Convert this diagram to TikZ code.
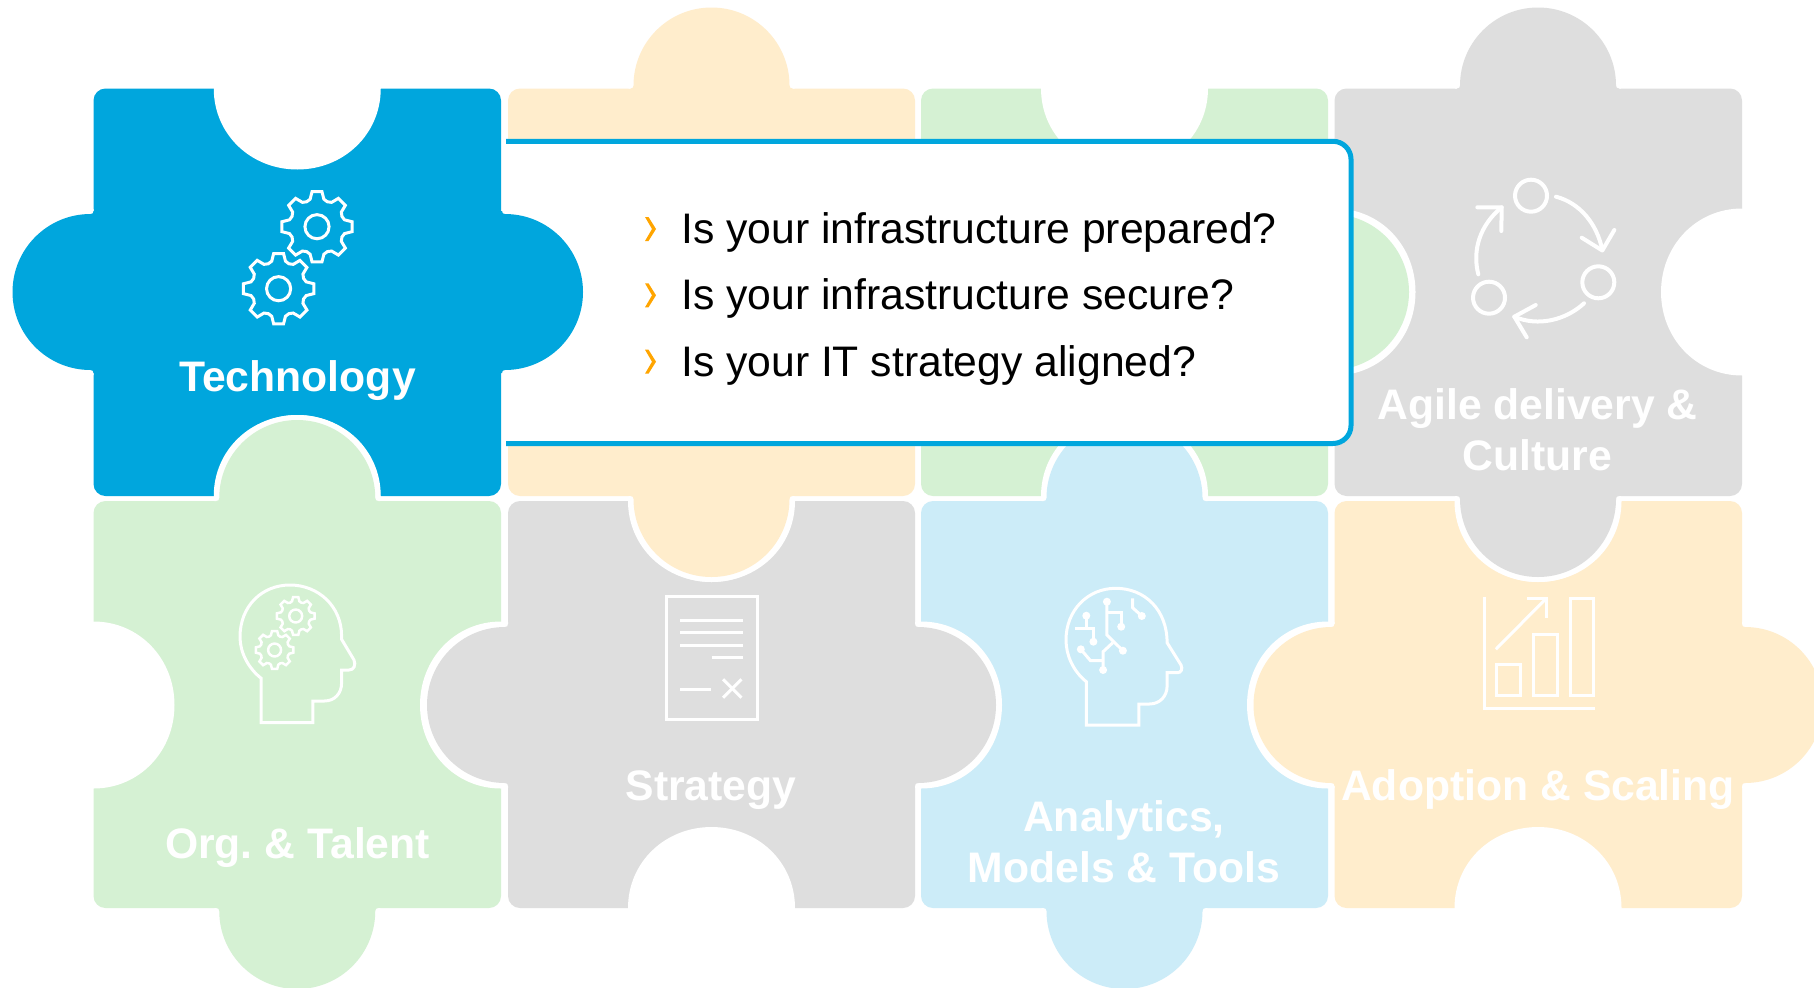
\documentclass[tikz,border=0pt]{standalone}
\usepackage{fontspec}
\setmainfont{Liberation Sans}
\frenchspacing
\definecolor{cblue}{HTML}{00A6DD}
\definecolor{corange}{HTML}{FFEDCC}
\definecolor{cgreen}{HTML}{D5F1D3}
\definecolor{cpale}{HTML}{CCECF8}
\definecolor{cgray}{HTML}{DEDEDE}
\definecolor{cchev}{HTML}{FFA500}
\tikzset{
  iconline/.style={draw=white,line width=.06cm,line join=miter},
  cycleline/.style={draw=white,line width=.08cm,line cap=round,line join=round},
  tilelabel/.style={text=white,font=\bfseries\fontsize{24.3}{29}\selectfont,align=center,anchor=base,inner sep=0pt},
  asktext/.style={text=black,font=\fontsize{24.3}{29}\selectfont,anchor=base west,inner sep=0pt},
  tilebody/.style={rounded corners=.24cm},
}
% outward tab: base centre (#1,#2), rotation #3 (0 down, 90 right, 180 up, -90 left)
\newcommand{\ptab}[4]{%
  \begin{scope}[shift={(#1,#2)},rotate=#3]
    \draw[white,line width=.2cm] (-78,0) -- (-78,3) .. controls (-78,46.1) and (-43.1,81) .. (0,81) .. controls (43.1,81) and (78,46.1) .. (78,3) -- (78,0);
    \fill[#4] (-81,-2) -- (-81,0) .. controls (-79,0) and (-78,1) .. (-78,3) .. controls (-78,46.1) and (-43.1,81) .. (0,81) .. controls (43.1,81) and (78,46.1) .. (78,3) .. controls (78,1) and (79,0) .. (81,0) -- (81,-2) -- cycle;
  \end{scope}}
% socket cut into a tile; same rotation rule, pointing into the tile
\newcommand{\pnotch}[3]{%
  \begin{scope}[shift={(#1,#2)},rotate=#3]
    \fill[white] (-83.5,-2) -- (-83.5,0) .. controls (-83.5,46.1) and (-46.1,81) .. (0,81) .. controls (46.1,81) and (83.5,46.1) .. (83.5,0) -- (83.5,-2) -- cycle;
  \end{scope}}
\newcommand{\gearglyph}[4]{%
  \begin{scope}[shift={(#1,#2)},scale=#3]
    \draw[iconline,line width=#4] (-8:1) foreach \ang in {0,45,...,315} { -- (\ang-8:1) -- (\ang+8:1) -- (\ang+14:.80) -- (\ang+22.5:.76) -- (\ang+31:.80) } -- cycle;
    \draw[iconline,line width=#4] (0,0) circle (.34);
  \end{scope}}
\begin{document}
\begin{tikzpicture}[x=.02cm,y=-.02cm]
\useasboundingbox (0,0) rectangle (1814,987);
\clip (0,0) rectangle (1814,987);
\fill[white] (0,0) rectangle (1814,987);
% tile bodies
\fill[cblue,tilebody] (93.5,88.5) rectangle (501,496);
\fill[corange,tilebody] (508,88.5) rectangle (915,496);
\fill[cgreen,tilebody] (921,88.5) rectangle (1328,496);
\fill[cgray,tilebody] (1334.5,88.5) rectangle (1742,496);
\fill[cgreen,tilebody] (93.5,501) rectangle (501,908);
\fill[cgray,tilebody] (508,501) rectangle (915,908);
\fill[cpale,tilebody] (921,501) rectangle (1328,908);
\fill[corange,tilebody] (1334.5,501) rectangle (1742,908);
% sockets
\pnotch{297.25}{88.5}{0}
\pnotch{297.25}{496}{180}
\pnotch{1124.5}{88.5}{0}
\pnotch{1124.5}{496}{180}
\pnotch{1334.5}{292}{90}
\pnotch{1742}{292}{-90}
\pnotch{93.5}{705}{90}
\pnotch{501}{705}{-90}
\pnotch{711.5}{501}{0}
\pnotch{711.5}{908}{180}
\pnotch{921}{705}{90}
\pnotch{1328}{705}{-90}
\pnotch{1538}{501}{0}
\pnotch{1538}{908}{180}
% tabs
\ptab{711.5}{88.5}{180}{corange}
\ptab{711.5}{496}{0}{corange}
\ptab{1328}{292}{90}{cgreen}
\ptab{1538}{88.5}{180}{cgray}
\ptab{1538}{496}{0}{cgray}
\ptab{297.25}{501}{180}{cgreen}
\ptab{297.25}{908}{0}{cgreen}
\ptab{508}{705}{-90}{cgray}
\ptab{915}{705}{90}{cgray}
\ptab{1124.5}{501}{180}{cpale}
\ptab{1124.5}{908}{0}{cpale}
\ptab{1334.5}{705}{-90}{corange}
\ptab{1742}{705}{90}{corange}
\ptab{93.5}{292}{-90}{cblue}
% call-out
\filldraw[fill=white,draw=cblue,line width=.1cm,rounded corners=.36cm] (506,141.3) -- (1351,141.3) -- (1351,443.5) -- (506,443.5);
\ptab{502}{292}{90}{cblue}
% chevrons
\foreach \yy in {229,295.3,361.7} {
  \fill[cchev] (645,\yy-12) -- (648.5,\yy-12) -- (656,\yy) -- (648.5,\yy+12) -- (645,\yy+12) -- (652,\yy) -- cycle;
}
\node[asktext] (q1) at (680.8,243.4) {Is your infrastructure prepared?};
\node[asktext] (q2) at (680.8,309.2) {Is your infrastructure secure?};
\node[asktext] (q3) at (680.8,376) {Is your IT strategy aligned?};
% labels
\node[tilelabel] (l1) at (297.5,391) {Technology};
\node[tilelabel] (l4) at (1537.5,470.7) {Agile delivery \&\\Culture};
\node[tilelabel] (l5) at (297.5,858) {Org. \& Talent};
\node[tilelabel] (l6) at (711,800) {Strategy};
\node[tilelabel] (l7) at (1124,882.5) {Analytics,\\Models \& Tools};
\node[tilelabel] (l8) at (1538,800) {Adoption \& Scaling};
% technology gears
\gearglyph{317}{226.7}{35.5}{.06cm}
\gearglyph{278.6}{288.7}{35.5}{.06cm}
% head with gears
\draw[iconline] (261.2,722.7) -- (312.9,722.7) -- (312.9,701) -- (324.4,701) .. controls (335,701) and (341.6,693) .. (341.6,683) -- (341.6,670) -- (349,670) .. controls (354,670) and (356,665) .. (354,660) -- (341.6,639.3) -- (341.6,636) .. controls (341.6,606) and (318,585) .. (290,585) .. controls (262,585) and (240,606) .. (240,637) .. controls (240,652) and (248,668) .. (261.2,678.3) -- cycle;
\gearglyph{295.7}{616}{19}{.05cm}
\gearglyph{274.6}{650}{19}{.05cm}
% document
\draw[iconline] (666.1,596.7) rectangle (757.2,719);
\draw[iconline] (680.3,620.3) -- (742.7,620.3);
\draw[iconline] (680.3,632.7) -- (742.7,632.7);
\draw[iconline] (680.3,645.7) -- (742.7,645.7);
\draw[iconline] (711.7,657.7) -- (742.7,657.7);
\draw[iconline] (680.3,689) -- (710.9,689);
\draw[iconline] (723,679.3) -- (741.5,697.7);
\draw[iconline] (741.5,679.3) -- (723,697.7);
% head with circuit
\draw[iconline] (1086.3,725) -- (1138.9,725) -- (1138.9,704) -- (1149.4,704) .. controls (1160,704) and (1167.1,696) .. (1167.1,686) -- (1167.1,672.7) -- (1177.6,672.7) .. controls (1181,672.7) and (1183,669) .. (1181,665) -- (1167.1,642.7) .. controls (1167.1,610) and (1145,588.3) .. (1115.7,588.3) .. controls (1088,588.3) and (1066,610) .. (1066,640) .. controls (1066,655) and (1073,671) .. (1086.3,681.7) -- cycle;
\draw[iconline] (1106.9,601.7) -- (1106.9,635) -- (1122.9,650.7);
\draw[iconline] (1106.9,612.3) -- (1121.2,612.3) -- (1121.2,626.7);
\draw[iconline] (1112.8,642.7) -- (1103.1,651.7) -- (1103.1,670);
\draw[iconline] (1080.8,649.3) -- (1090.5,660.7) -- (1103.1,660.7);
\draw[iconline] (1086.3,615.7) -- (1086.3,628.3);
\draw[iconline] (1074.9,628.3) -- (1093.4,628.3) -- (1093.4,641.7);
\draw[iconline] (1132.6,598.3) -- (1132.6,607.7) -- (1141.8,616);
\foreach \px/\py in {1106.9/601.7,1122.9/650.7,1121.2/626.7,1103.1/670,1080.8/649.3,1086.3/615.7,1093.4/641.7,1141.8/616} {
  \fill[white] (\px,\py) circle (4);
}
% chart
\draw[iconline] (1484,596.7) -- (1484,708.3) -- (1595.1,708.3);
\draw[iconline] (1496.6,664.3) rectangle (1520.6,695);
\draw[iconline] (1533.7,634.3) rectangle (1557.7,695);
\draw[iconline] (1570.3,598) rectangle (1593.9,695);
\draw[iconline] (1495.8,649.3) -- (1546.3,598.3);
\draw[iconline] (1527,598.3) -- (1546.3,598.3) -- (1546.3,617.7);
% cycle
\draw[cycleline] (1531,195.7) circle (16);
\draw[cycleline] (1598.3,282.3) circle (16);
\draw[cycleline] (1489,297.7) circle (16);
\draw[cycleline] (1556,196.7) .. controls (1580,203) and (1597,224) .. (1602.3,250);
\draw[cycleline] (1581.7,237.7) -- (1602.3,250.5) -- (1614.3,230);
\draw[cycleline] (1584,303.3) .. controls (1566,320) and (1538,327) .. (1514.3,316.7);
\draw[cycleline] (1535.7,305) -- (1514.3,316.7) -- (1526.7,337.3);
\draw[cycleline] (1478.3,274.3) .. controls (1472,250) and (1480,225) .. (1501.7,207.3);
\draw[cycleline] (1477.3,207.3) -- (1501.7,207.3) -- (1501.3,231);
\end{tikzpicture}
\end{document}
